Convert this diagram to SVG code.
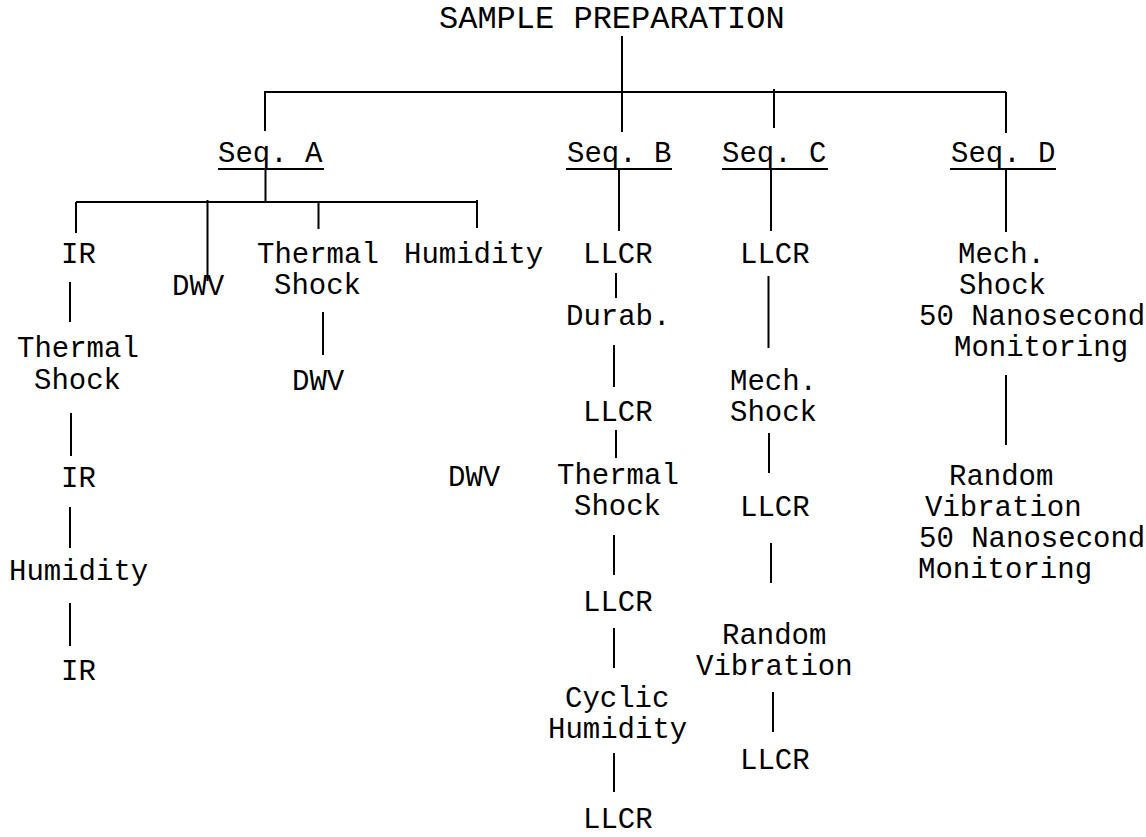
<svg xmlns="http://www.w3.org/2000/svg" width="1146" height="837" viewBox="0 0 1146 837">
<style>
.t{font-family:"Liberation Mono","Courier New",monospace;font-size:29px;fill:#000}
.title{font-size:32px}
.ln{stroke:#000;stroke-width:2;fill:none}
.ul{stroke:#000;stroke-width:2.2}
</style>
<rect width="1146" height="837" fill="#fff"/>
<g id="connectors" class="ln">
<path d="M622 36V132M264 92H1006M265 92V131M774 89V128M1006 92V133"/>
<path d="M265.5 169V202M619 169V231M771 169V231M1006 169V232"/>
<path d="M76 202H477M76 202V233M207.5 200V281M318.5 202V229M477 200V228"/>
<path d="M70 282V322M71 413V456M70 507V548M70 603V646M323 312V355"/>
<path d="M616 273V298M614 345V387M616 430V458M614 535V575M614 628V668M614 753V792"/>
<path d="M768.5 276V348M769 433V473M771 543V583M773 692V732"/>
<path d="M1006 375V445"/>
</g>
<g id="n-title"><text class="t title" x="439" y="28">SAMPLE PREPARATION</text></g>
<g id="n-seqA"><text class="t" x="218" y="162">Seq. A</text><line class="ul" x1="218" y1="169" x2="324" y2="169"/></g>
<g id="n-seqB"><text class="t" x="567" y="162">Seq. B</text><line class="ul" x1="566" y1="169" x2="672" y2="169"/></g>
<g id="n-seqC"><text class="t" x="722" y="162">Seq. C</text><line class="ul" x1="722" y1="169" x2="828" y2="169"/></g>
<g id="n-seqD"><text class="t" x="951" y="162">Seq. D</text><line class="ul" x1="950" y1="169" x2="1056" y2="169"/></g>
<g id="a-ir1"><text class="t" x="61" y="263">IR</text></g>
<g id="a-dwv1"><text class="t" x="172" y="295">DWV</text></g>
<g id="a-ts1"><text class="t" x="257" y="263">Thermal</text><text class="t" x="274" y="294">Shock</text></g>
<g id="a-hum1"><text class="t" x="404" y="263">Humidity</text></g>
<g id="a-dwv2"><text class="t" x="292" y="390">DWV</text></g>
<g id="a-ts2"><text class="t" x="17" y="357">Thermal</text><text class="t" x="34" y="389">Shock</text></g>
<g id="a-ir2"><text class="t" x="61" y="487">IR</text></g>
<g id="a-dwv3"><text class="t" x="448" y="486">DWV</text></g>
<g id="a-hum2"><text class="t" x="9" y="580">Humidity</text></g>
<g id="a-ir3"><text class="t" x="61" y="680">IR</text></g>
<g id="b-llcr1"><text class="t" x="583" y="263">LLCR</text></g>
<g id="b-durab"><text class="t" x="566" y="325">Durab.</text></g>
<g id="b-llcr2"><text class="t" x="583" y="421">LLCR</text></g>
<g id="b-ts"><text class="t" x="557" y="484">Thermal</text><text class="t" x="574" y="515">Shock</text></g>
<g id="b-llcr3"><text class="t" x="583" y="611">LLCR</text></g>
<g id="b-ch"><text class="t" x="565" y="707">Cyclic</text><text class="t" x="548" y="738">Humidity</text></g>
<g id="b-llcr4"><text class="t" x="583" y="828">LLCR</text></g>
<g id="c-llcr1"><text class="t" x="740" y="263">LLCR</text></g>
<g id="c-ms"><text class="t" x="730" y="390">Mech.</text><text class="t" x="730" y="421">Shock</text></g>
<g id="c-llcr2"><text class="t" x="740" y="516">LLCR</text></g>
<g id="c-rv"><text class="t" x="722" y="644">Random</text><text class="t" x="696" y="675">Vibration</text></g>
<g id="c-llcr3"><text class="t" x="740" y="769">LLCR</text></g>
<g id="d-ms"><text class="t" x="958" y="263">Mech.</text><text class="t" x="959" y="294">Shock</text><text class="t" x="919" y="325">50 Nanosecond</text><text class="t" x="954" y="356">Monitoring</text></g>
<g id="d-rv"><text class="t" x="949" y="485">Random</text><text class="t" x="925" y="516">Vibration</text><text class="t" x="919" y="547">50 Nanosecond</text><text class="t" x="918" y="578">Monitoring</text></g>
</svg>
